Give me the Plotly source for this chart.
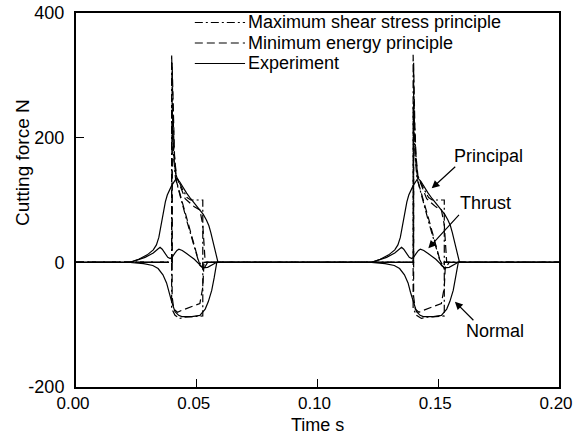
import plotly.graph_objects as go

# ---------------- data (time in s, force in N) ----------------
# Experiment
exp_principal_t = [0.0,
    0.0224, 0.026, 0.0295, 0.032, 0.0333, 0.0343, 0.035, 0.0356, 0.0362, 0.037, 0.0378,
    0.0386, 0.0396, 0.0406, 0.0416, 0.0428, 0.0443, 0.0458, 0.0475, 0.049, 0.0503,
    0.0513, 0.0527, 0.054, 0.055, 0.0558, 0.0566, 0.0573, 0.0579, 0.0584, 0.0588,
    0.1224, 0.126, 0.1295, 0.132, 0.1333, 0.1343, 0.135, 0.1356, 0.1362, 0.137, 0.1378,
    0.1386, 0.1396, 0.1406, 0.1416, 0.1428, 0.1443, 0.1458, 0.1475, 0.149, 0.1503,
    0.1513, 0.1527, 0.154, 0.155, 0.1558, 0.1566, 0.1573, 0.1579, 0.1584, 0.1588,
    0.2]
exp_principal_f = [0,
    0, 5, 12, 20, 28, 40, 55, 68, 82, 97, 108,
    116, 123, 129, 135, 130, 120, 111, 102, 95, 89,
    84, 77, 68, 59, 48, 36, 24, 13, 5, 0,
    0, 5, 12, 20, 28, 40, 55, 68, 82, 97, 108,
    116, 123, 129, 135, 130, 120, 111, 102, 95, 89,
    84, 77, 68, 59, 48, 36, 24, 13, 5, 0,
    0]

exp_thrust_t = [0.0,
    0.0224, 0.0286, 0.032, 0.0338, 0.0348, 0.0357, 0.0368, 0.038, 0.039, 0.0398, 0.0408,
    0.0418, 0.0426, 0.044, 0.0458, 0.049, 0.0513, 0.0525, 0.0545, 0.0566, 0.0583,
    0.1224, 0.1286, 0.132, 0.1338, 0.1348, 0.1357, 0.1368, 0.138, 0.139, 0.1398, 0.1408,
    0.1418, 0.1426, 0.144, 0.1458, 0.149, 0.1513, 0.1525, 0.1545, 0.1566, 0.1583,
    0.2]
exp_thrust_f = [0,
    0, 8, 15, 21, 24, 21, 14, 8, 6, 8, 14,
    19, 21, 19, 14, 5, -4, -9, -8, -4, 0,
    0, 8, 15, 21, 24, 21, 14, 8, 6, 8, 14,
    19, 21, 19, 14, 5, -4, -9, -8, -4, 0,
    0]

exp_normal_t = [0.0,
    0.0224, 0.028, 0.0318, 0.034, 0.036, 0.0375, 0.0385, 0.0396, 0.041, 0.0425, 0.0438,
    0.048, 0.0513, 0.0535, 0.0548, 0.0562, 0.0572, 0.0583,
    0.1224, 0.128, 0.1318, 0.134, 0.136, 0.1375, 0.1385, 0.1396, 0.141, 0.1425, 0.1438,
    0.148, 0.1513, 0.1535, 0.1548, 0.1562, 0.1572, 0.1583,
    0.2]
exp_normal_f = [0,
    0, -2, -5, -10, -20, -33, -48, -63, -79, -85, -87,
    -87, -85, -75, -63, -45, -25, 0,
    0, -2, -5, -10, -20, -33, -48, -63, -79, -85, -87,
    -87, -85, -75, -63, -45, -25, 0,
    0]

# Maximum shear stress principle
mss_principal_t = [0.0,
    0.0396, 0.0396, 0.0401, 0.0406, 0.0414, 0.044, 0.046, 0.0475, 0.0525, 0.0525,
    0.1396, 0.1396, 0.1401, 0.1406, 0.1414, 0.144, 0.146, 0.1475, 0.1525, 0.1525,
    0.2]
mss_principal_f = [0,
    0, 333, 230, 180, 140, 118, 104, 100, 100, 0,
    0, 333, 230, 180, 140, 118, 104, 100, 100, 0,
    0]

mss_thrust_t = [0.0,
    0.0396, 0.0396, 0.0404, 0.0412, 0.046, 0.0505, 0.0525, 0.0525,
    0.1396, 0.1396, 0.1404, 0.1412, 0.146, 0.1505, 0.1525, 0.1525,
    0.2]
mss_thrust_f = [0,
    0, 250, 170, 135, 65, 5, -10, 0,
    0, 250, 170, 135, 65, 5, -10, 0,
    0]

mss_normal_t = [0.0,
    0.0396, 0.0396, 0.041, 0.043, 0.045, 0.0525, 0.0525,
    0.1396, 0.1396, 0.141, 0.143, 0.145, 0.1525, 0.1525,
    0.2]
mss_normal_f = [0,
    0, -74, -85, -90, -88, -86, 0,
    0, -74, -85, -90, -88, -86, 0,
    0]

# Minimum energy principle
mep_principal_t = [0.0,
    0.0398, 0.0398, 0.0403, 0.0408, 0.0416, 0.044, 0.0452, 0.049, 0.0513, 0.0525, 0.0535,
    0.1398, 0.1398, 0.1403, 0.1408, 0.1416, 0.144, 0.1452, 0.149, 0.1513, 0.1525, 0.1535,
    0.2]
mep_principal_f = [0,
    0, 320, 220, 170, 138, 115, 102, 89, 84, 60, 0,
    0, 320, 220, 170, 138, 115, 102, 89, 84, 60, 0,
    0]

mep_thrust_t = [0.0,
    0.0398, 0.0398, 0.0406, 0.0416, 0.046, 0.0513, 0.053, 0.0545,
    0.1398, 0.1398, 0.1406, 0.1416, 0.146, 0.1513, 0.153, 0.1545,
    0.2]
mep_thrust_f = [0,
    0, 250, 165, 130, 70, -5, -10, 0,
    0, 250, 165, 130, 70, -5, -10, 0,
    0]

mep_normal_t = [0.0,
    0.0398, 0.0398, 0.0405, 0.042, 0.0438, 0.0513, 0.0525, 0.053,
    0.1398, 0.1398, 0.1405, 0.142, 0.1438, 0.1513, 0.1525, 0.153,
    0.2]
mep_normal_f = [0,
    0, -55, -75, -80, -77, -66, -40, 0,
    0, -55, -75, -80, -77, -66, -40, 0,
    0]

series_names = ["Maximum shear stress principle", "Minimum energy principle", "Experiment"]
x_ticks = [0.0, 0.05, 0.10, 0.15, 0.20]
x_ticktext = ["0.00", "0.05", "0.10", "0.15", "0.20"]
y_ticks = [-200, 0, 200, 400]
y_ticktext = ["-200", "0", "200", "400"]

# ---------------- figure ----------------
FONT = "Liberation Sans, Arial, sans-serif"
DASHDOT = "8px,3px,2px,3px"
DASH = "8px,4px"
LW = 1.2

fig = go.Figure()

def add(t, f, dash, name):
    fig.add_trace(go.Scatter(
        x=t, y=f, mode="lines", name=name, showlegend=False,
        line=dict(color="black", width=LW, dash=dash),
        hoverinfo="skip"))

add(exp_principal_t, exp_principal_f, "solid", series_names[2])
add(exp_thrust_t, exp_thrust_f, "solid", series_names[2])
add(exp_normal_t, exp_normal_f, "solid", series_names[2])
add(mep_principal_t, mep_principal_f, DASH, series_names[1])
add(mep_thrust_t, mep_thrust_f, DASH, series_names[1])
add(mep_normal_t, mep_normal_f, DASH, series_names[1])
add(mss_principal_t, mss_principal_f, DASHDOT, series_names[0])
add(mss_thrust_t, mss_thrust_f, DASHDOT, series_names[0])
add(mss_normal_t, mss_normal_f, DASHDOT, series_names[0])

annotations = []
shapes = []

# Manual legend (paper coordinates)
legend_rows_y = [0.9746, 0.9198, 0.8650]
legend_dashes = [DASHDOT, DASH, "solid"]
for name, yy, dsh in zip(series_names, legend_rows_y, legend_dashes):
    shapes.append(dict(type="line", xref="paper", yref="paper",
                       x0=0.246, x1=0.350, y0=yy, y1=yy,
                       line=dict(color="black", width=LW, dash=dsh)))
    annotations.append(dict(text=name, xref="paper", yref="paper", x=0.352, y=yy,
                            xanchor="left", yanchor="middle", showarrow=False,
                            font=dict(size=18, family=FONT, color="black")))

# Component labels with arrows
labels = [
    ("Principal", 0.1710, 170.5, 0.1473, 118.7, 25, -23),
    ("Thrust", 0.1694, 95.6, 0.1459, 22.5, 32, -35),
    ("Normal", 0.1735, -110.2, 0.1569, -63.2, 20, 20),
]
for txt, tx, ty, hx, hy, ax, ay in labels:
    annotations.append(dict(text=txt, x=tx, y=ty, xref="x", yref="y", showarrow=False,
                            xanchor="center", yanchor="middle",
                            font=dict(size=18, family=FONT, color="black")))
    annotations.append(dict(text="", x=hx, y=hy, xref="x", yref="y", showarrow=True,
                            ax=ax, ay=ay, arrowhead=2, arrowsize=1.3, arrowwidth=1.2,
                            arrowcolor="black", standoff=0))

# Axis titles (placed as in the reference)
annotations.append(dict(text="Cutting force N", xref="paper", yref="paper",
                        x=-0.111, y=0.60, textangle=-90, showarrow=False,
                        xanchor="center", yanchor="middle",
                        font=dict(size=19, family=FONT, color="black")))
annotations.append(dict(text="Time s", xref="paper", yref="paper",
                        x=0.5, y=-0.1300, showarrow=False, borderpad=0,
                        xanchor="center", yanchor="bottom",
                        font=dict(size=18, family=FONT, color="black")))

fig.update_layout(
    width=574, height=436,
    margin=dict(l=76, r=15, t=13, b=49, autoexpand=False),
    paper_bgcolor="white", plot_bgcolor="white",
    font=dict(family=FONT, size=18, color="black"),
    showlegend=False,
    annotations=annotations,
    shapes=shapes,
)
fig.update_xaxes(
    range=[0, 0.2], tickvals=x_ticks, ticktext=x_ticktext,
    ticks="inside", ticklen=8, tickwidth=1.2, tickcolor="black",
    showline=True, linewidth=2, linecolor="black", mirror=True,
    showgrid=False, zeroline=False, automargin=False,
    tickfont=dict(size=17, family=FONT),
    ticklabelstandoff=0, ticklabelshift=-3, ticklabeloverflow="allow",
)
fig.update_yaxes(
    range=[-200, 400], tickvals=y_ticks, ticktext=y_ticktext,
    ticks="inside", ticklen=8, tickwidth=1.2, tickcolor="black",
    showline=True, linewidth=2, linecolor="black", mirror=True,
    showgrid=False, zeroline=False, automargin=False,
    tickfont=dict(size=18, family=FONT),
    ticklabelstandoff=6, ticklabeloverflow="allow",
)

fig.write_html("out.html")
